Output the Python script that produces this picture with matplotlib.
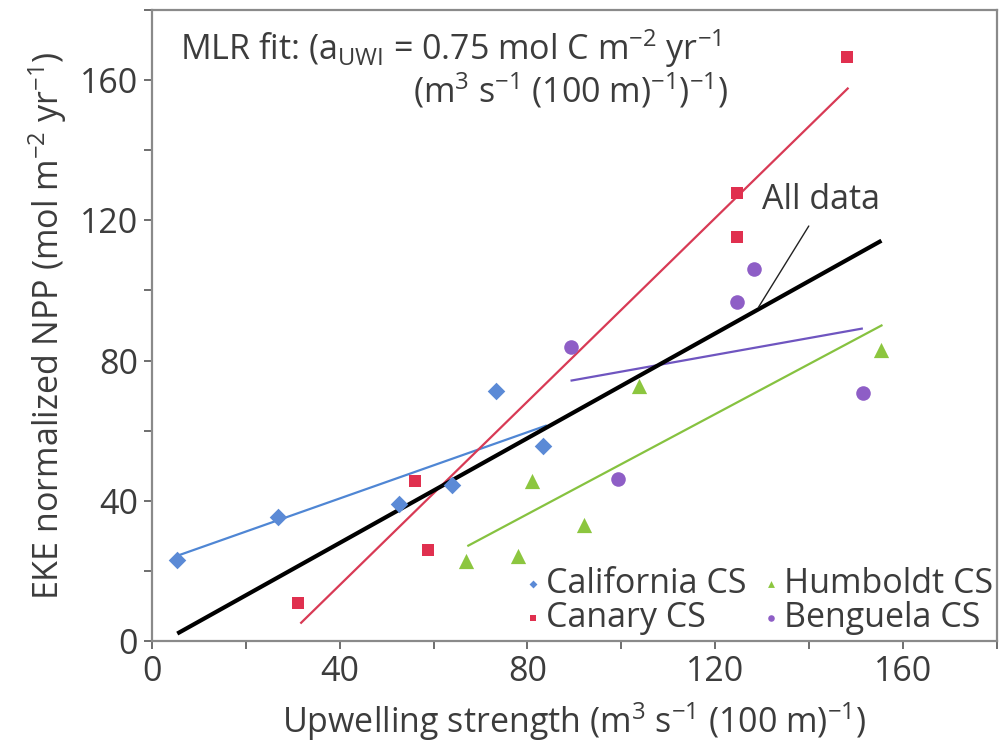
import matplotlib
matplotlib.use("Agg")
import matplotlib.pyplot as plt

plt.rcParams['font.family'] = ['Open Sans', 'DejaVu Sans']
plt.rcParams['mathtext.fontset'] = 'custom'
plt.rcParams['mathtext.rm'] = 'Open Sans'
plt.rcParams['mathtext.it'] = 'Open Sans:italic'
plt.rcParams['mathtext.default'] = 'regular'

# data: upwelling strength (x) vs EKE normalized NPP (y)
california_x = [5.4, 26.8, 52.6, 63.9, 73.2, 83.4]
california_y = [23.1, 35.3, 39.1, 44.6, 71.2, 55.7]
canary_x = [31.2, 56.0, 58.9, 124.6, 124.6, 148.1]
canary_y = [10.8, 45.5, 26.0, 127.7, 115.1, 166.5]
humboldt_x = [66.9, 77.9, 80.9, 92.0, 103.8, 155.3]
humboldt_y = [22.7, 24.1, 45.5, 33.1, 72.7, 83.1]
benguela_x = [89.2, 99.3, 124.7, 128.3, 151.4]
benguela_y = [83.9, 46.2, 96.7, 106.0, 70.6]

# fitted lines (end points)
california_fit_x = [5.4, 83.9]
california_fit_y = [24.3, 61.4]
canary_fit_x = [31.8, 148.2]
canary_fit_y = [5.2, 157.6]
humboldt_fit_x = [67.4, 155.4]
humboldt_fit_y = [27.2, 90.0]
benguela_fit_x = [89.4, 151.2]
benguela_fit_y = [74.3, 89.1]
all_fit_x = [5.8, 155.0]
all_fit_y = [2.4, 113.9]

x_ticks = [0, 40, 80, 120, 160]
y_ticks = [0, 40, 80, 120, 160]

col_cal = '#5b8ad6'
col_can = '#e0304f'
col_hum = '#8cc63f'
col_ben = '#8e5ec6'
txt_col = '#3c3c3c'
fs = 24.5

fig = plt.figure(figsize=(9.99, 7.51), dpi=100)
ax = fig.add_axes([0.152, 0.1465, 0.846, 0.8402])

ax.plot(california_fit_x, california_fit_y, color='#4f86d4', lw=1.6, zorder=2)
ax.plot(canary_fit_x, canary_fit_y, color='#d83a55', lw=1.6, zorder=2)
ax.plot(humboldt_fit_x, humboldt_fit_y, color='#86c240', lw=1.6, zorder=2)
ax.plot(benguela_fit_x, benguela_fit_y, color='#6f55c0', lw=1.6, zorder=2)
ax.plot(all_fit_x, all_fit_y, color='black', lw=3.0, zorder=3)

h1 = ax.scatter(california_x, california_y, marker='D', s=80, color=col_cal, lw=0, zorder=4, label='California CS')
h2 = ax.scatter(canary_x, canary_y, marker='s', s=85, color=col_can, lw=0, zorder=4, label='Canary CS')
h3 = ax.scatter(humboldt_x, humboldt_y, marker='^', s=120, color=col_hum, lw=0, zorder=4, label='Humboldt CS')
h4 = ax.scatter(benguela_x, benguela_y, marker='o', s=110, color=col_ben, lw=0, zorder=4, label='Benguela CS')

ax.annotate('All data', xy=(129.2, 95.2), xytext=(130.0, 125.7), fontsize=fs, color=txt_col,
            ha='left', va='center',
            arrowprops=dict(arrowstyle='-', color='#222222', lw=1.0, relpos=(0.44, 0.0), shrinkA=5, shrinkB=0))

ax.text(0.033, 0.921, r'MLR fit: (a$_{UWI}$ = 0.75 mol C m$^{-2}$ yr$^{-1}$', transform=ax.transAxes,
        fontsize=fs, color=txt_col, ha='left', va='baseline')
ax.text(0.682, 0.853, r'(m$^{3}$ s$^{-1}$ (100 m)$^{-1}$)$^{-1}$)', transform=ax.transAxes,
        fontsize=fs, color=txt_col, ha='right', va='baseline')

leg = ax.legend(handles=[h1, h2, h3, h4], ncol=2, loc='lower right', bbox_to_anchor=(1.015, -0.017),
                frameon=False, fontsize=fs, markerscale=0.45, handlelength=0.45, handletextpad=0.15,
                columnspacing=0.5, labelspacing=0.0, borderaxespad=0.1)
for t in leg.get_texts():
    t.set_color(txt_col)

ax.set_xlim(0, 180)
ax.set_ylim(0, 180)
ax.set_xticks(x_ticks)
ax.set_yticks(y_ticks)
ax.set_xticks([20, 60, 100, 140, 180], minor=True)
ax.set_yticks([20, 60, 100, 140, 180], minor=True)
ax.tick_params(which='both', direction='out', length=6, width=1.2, colors='#555555',
               labelsize=fs, labelcolor=txt_col, pad=4)

for s in ax.spines.values():
    s.set_color('#8a8a8a')
    s.set_linewidth(1.6)

ax.set_xlabel(r'Upwelling strength (m$^{3}$ s$^{-1}$ (100 m)$^{-1}$)', fontsize=fs, color=txt_col, labelpad=8)
ax.set_ylabel(r'EKE normalized NPP (mol m$^{-2}$ yr$^{-1}$)', fontsize=fs, color=txt_col, labelpad=8)

fig.savefig('out.png', dpi=100)
